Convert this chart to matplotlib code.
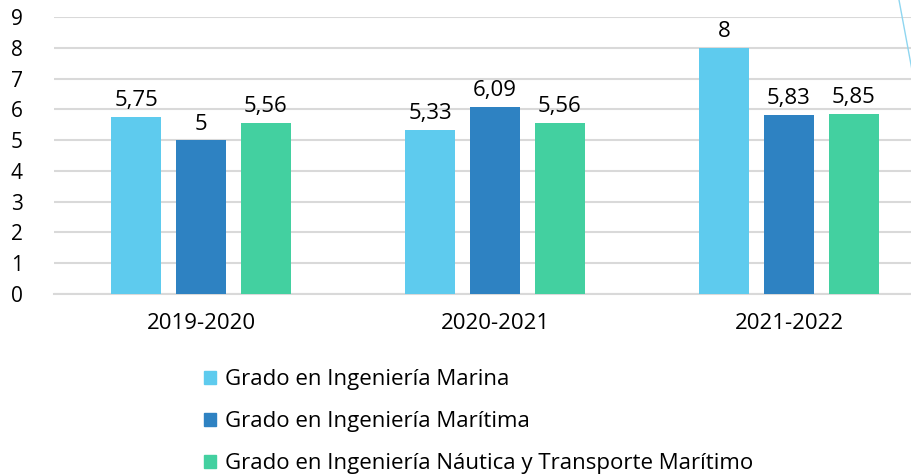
import numpy as np
import matplotlib.pyplot as plt
from matplotlib.patches import Patch
from matplotlib.lines import Line2D

categories = ['2019-2020', '2020-2021', '2021-2022']
series_names = ['Grado en Ingeniería Marina',
                'Grado en Ingeniería Marítima',
                'Grado en Ingeniería Náutica y Transporte Marítimo']
marina = [5.75, 5.33, 8]
maritima = [5, 6.09, 5.83]
nautica = [5.56, 5.56, 5.85]
colors = ['#5ECBEE', '#2E82C2', '#43D0A0']

plt.rcParams['font.family'] = ['Open Sans', 'DejaVu Sans']

W, H = 912, 476
fig = plt.figure(figsize=(W / 100, H / 100), dpi=100)
# plot area runs a little past the right edge (cropped in the original)
ax = fig.add_axes([54 / W, (H - 294) / H, 882 / W, 277 / H])

x = np.arange(len(categories))
pitch = 0.221
width = 0.173
for i, (vals, name) in enumerate(zip([marina, maritima, nautica], series_names)):
    bars = ax.bar(x + (i - 1) * pitch, vals, width, color=colors[i], label=name, zorder=3)
    for rect, v in zip(bars, vals):
        txt = f'{v:g}'.replace('.', ',')
        ax.annotate(txt, xy=(rect.get_x() + rect.get_width() / 2, rect.get_height()),
                    xytext=(0, 4), textcoords='offset points',
                    ha='center', va='bottom', fontsize=16)

ax.set_xlim(-0.5, 2.5)
ax.set_ylim(0, 9)
ax.set_yticks(range(10))
ax.yaxis.grid(True, color='#d9d9d9', linewidth=1.5, zorder=0)
ax.set_xticks(x)
ax.set_xticklabels(categories, fontsize=16)
ax.tick_params(axis='y', labelsize=15, length=0, pad=31)
ax.tick_params(axis='x', length=0, pad=14)
for lbl in ax.get_yticklabels():
    lbl.set_horizontalalignment('left')
for s in ['top', 'right', 'left']:
    ax.spines[s].set_visible(False)
ax.spines['bottom'].set_color('#d9d9d9')
ax.spines['bottom'].set_linewidth(1.5)

handles = [Patch(color=c) for c in colors]
fig.legend(handles, series_names, loc='upper left',
           bbox_to_anchor=(193 / W, (H - 358) / H), frameon=False,
           fontsize=16, handlelength=0.55, handleheight=0.55,
           handletextpad=0.4, labelspacing=0.95, borderpad=0)

# thin decorative line in the top right corner
fig.add_artist(Line2D([899 / W, 912 / W], [1.0, 1 - 70 / H],
                      transform=fig.transFigure, color='#8fd6f0', linewidth=1))

fig.savefig('out.png', dpi=100)
